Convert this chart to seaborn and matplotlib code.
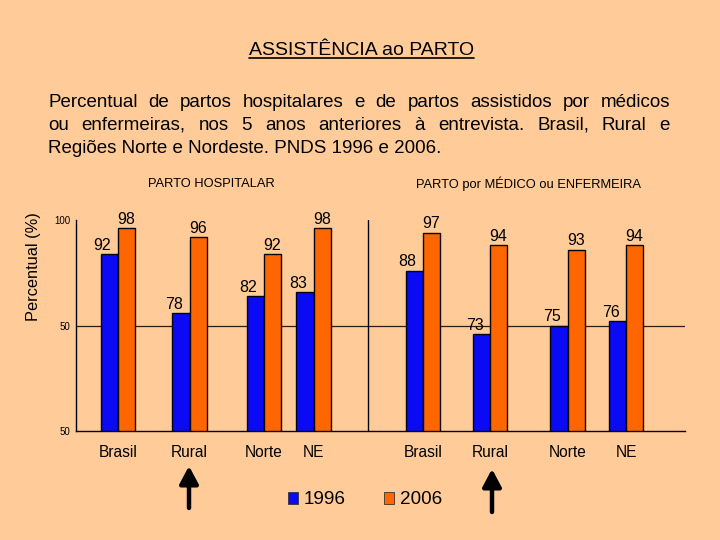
import numpy as np
import pandas as pd
import matplotlib
matplotlib.use("Agg")
import matplotlib.pyplot as plt
from matplotlib.patches import Patch
from matplotlib.lines import Line2D
import seaborn as sns

# ---------------- data ----------------
regions = ["Brasil", "Rural", "Norte", "NE"]
years = ["1996", "2006"]
hospitalar_1996 = [92, 78, 82, 83]
hospitalar_2006 = [98, 96, 92, 98]
medico_1996 = [88, 73, 75, 76]
medico_2006 = [97, 94, 93, 94]
y_ticks = [50, 75, 100]
y_tick_labels = ["50", "50", "100"]

title = "ASSISTÊNCIA ao PARTO"
paragraph = [
    "Percentual de partos hospitalares e de partos assistidos por médicos",
    "ou enfermeiras, nos 5 anos anteriores à entrevista. Brasil, Rural e",
    "Regiões Norte e Nordeste. PNDS 1996 e 2006.",
]
panel_titles = ["PARTO HOSPITALAR", "PARTO por MÉDICO ou ENFERMEIRA"]
y_label = "Percentual (%)"

# ---------------- layout (pixel units of the 720x540 canvas) ----------------
W, H = 720, 540
slots = [118, 189.5, 264, 313.5, 423, 490, 567.5, 626]
ax_left, ax_right, ax_top, ax_bottom = 76, 685, 220, 431
BG = "#FFCC99"
palette = {"1996": "#0A0AF5", "2006": "#FF6600"}

sns.set_style("ticks")
plt.rcParams["font.family"] = ["Liberation Sans", "DejaVu Sans"]
plt.rcParams["text.color"] = "black"
plt.rcParams["axes.labelcolor"] = "black"
plt.rcParams["xtick.color"] = "black"
plt.rcParams["ytick.color"] = "black"

fig = plt.figure(figsize=(W / 100, H / 100), dpi=100, facecolor=BG)
ax = fig.add_axes([ax_left / W, 1 - ax_bottom / H,
                   (ax_right - ax_left) / W, (ax_bottom - ax_top) / H])
ax.set_facecolor(BG)

rows = []
for i, r in enumerate(regions):
    rows.append(dict(x=slots[i], year="1996", value=hospitalar_1996[i], label=r))
    rows.append(dict(x=slots[i], year="2006", value=hospitalar_2006[i], label=r))
    rows.append(dict(x=slots[4 + i], year="1996", value=medico_1996[i], label=r))
    rows.append(dict(x=slots[4 + i], year="2006", value=medico_2006[i], label=r))
df = pd.DataFrame(rows)

sns.barplot(data=df, x="x", y="value", hue="year", hue_order=years,
            native_scale=True, width=0.69, palette=palette, saturation=1,
            edgecolor="black", linewidth=1, legend=False, ax=ax, zorder=2)

ax.set_xlim(ax_left, ax_right)
ax.set_ylim(50, 100)
ax.set_yticks(y_ticks)
ax.set_yticklabels(y_tick_labels, fontsize=7)
ax.set_xticks(slots)
ax.set_xticklabels(regions * 2, fontsize=11.2)
ax.tick_params(axis="both", length=0, colors="black")
ax.tick_params(axis="x", pad=10)
ax.tick_params(axis="y", pad=4)
ax.set_xlabel("")
ax.set_ylabel(y_label, fontsize=11.8, color="black")
ax.yaxis.set_label_coords(-0.057, 0.78)
for s in ["top", "right"]:
    ax.spines[s].set_visible(False)
for s in ["left", "bottom"]:
    ax.spines[s].set_color("black")
    ax.spines[s].set_linewidth(1)
ax.axhline(75, color="#2b1d0e", lw=0.9, zorder=0.5)
ax.axvline(368, color="black", lw=1, zorder=0.5)

# value labels
for p in ax.patches:
    h = p.get_height()
    if not np.isfinite(h) or h <= 0:
        continue
    xc = p.get_x() + p.get_width() / 2
    is_blue = p.get_facecolor()[2] > 0.5
    dx = -5 if is_blue else 0
    ax.annotate(f"{h:.0f}", (xc, h), xytext=(dx, 3), textcoords="offset points",
                ha="center", va="baseline", fontsize=11.5, color="black",
                annotation_clip=False)

def fx(px):
    return px / W

def fy(py):
    return 1 - py / H

# title with underline
t = fig.text(fx(361.5), fy(55), title, ha="center", va="baseline", fontsize=14)
fig.canvas.draw()
renderer = fig.canvas.get_renderer()
bb = t.get_window_extent(renderer)
fig.add_artist(Line2D([bb.x0 / W, bb.x1 / W], [fy(57.5), fy(57.5)],
                      color="black", lw=1.2, transform=fig.transFigure))

# justified paragraph
left_px, right_px = 48, 670
baselines = [107, 130, 153]
for li, line in enumerate(paragraph):
    if li == len(paragraph) - 1:
        fig.text(fx(left_px), fy(baselines[li]), line, ha="left", va="baseline",
                 fontsize=13.5)
        continue
    words = line.split(" ")
    texts = [fig.text(0, fy(baselines[li]), w, ha="left", va="baseline",
                      fontsize=13.5) for w in words]
    widths = [tx.get_window_extent(renderer).width for tx in texts]
    gap = (right_px - left_px - sum(widths)) / (len(words) - 1)
    xpos = left_px
    for tx, wd in zip(texts, widths):
        tx.set_x(fx(xpos))
        xpos += wd + gap

# panel titles
fig.text(fx(211), fy(184), panel_titles[0], ha="center", va="center", fontsize=9.3)
fig.text(fx(528), fy(184), panel_titles[1], ha="center", va="center", fontsize=9.3)

# arrows under "Rural"
for xa, ytip, ybase in [(189, 466, 508), (492, 469, 512)]:
    fig.add_artist(matplotlib.patches.FancyArrowPatch(
        (fx(xa), fy(ybase)), (fx(xa), fy(ytip)), transform=fig.transFigure,
        arrowstyle="-|>,head_length=0.75,head_width=0.4", mutation_scale=14,
        lw=3.2, color="black", shrinkA=0, shrinkB=0))

# legend
handles = [Patch(facecolor=palette[y], edgecolor="#333333", lw=0.6) for y in years]
fig.legend(handles, years, loc="center", bbox_to_anchor=(fx(365), fy(500)),
           ncol=2, frameon=False, fontsize=13.6, handlelength=0.55,
           handleheight=0.55, handletextpad=0.3, columnspacing=2.0,
           labelcolor="black")

fig.savefig("out.png", dpi=100, facecolor=BG)
